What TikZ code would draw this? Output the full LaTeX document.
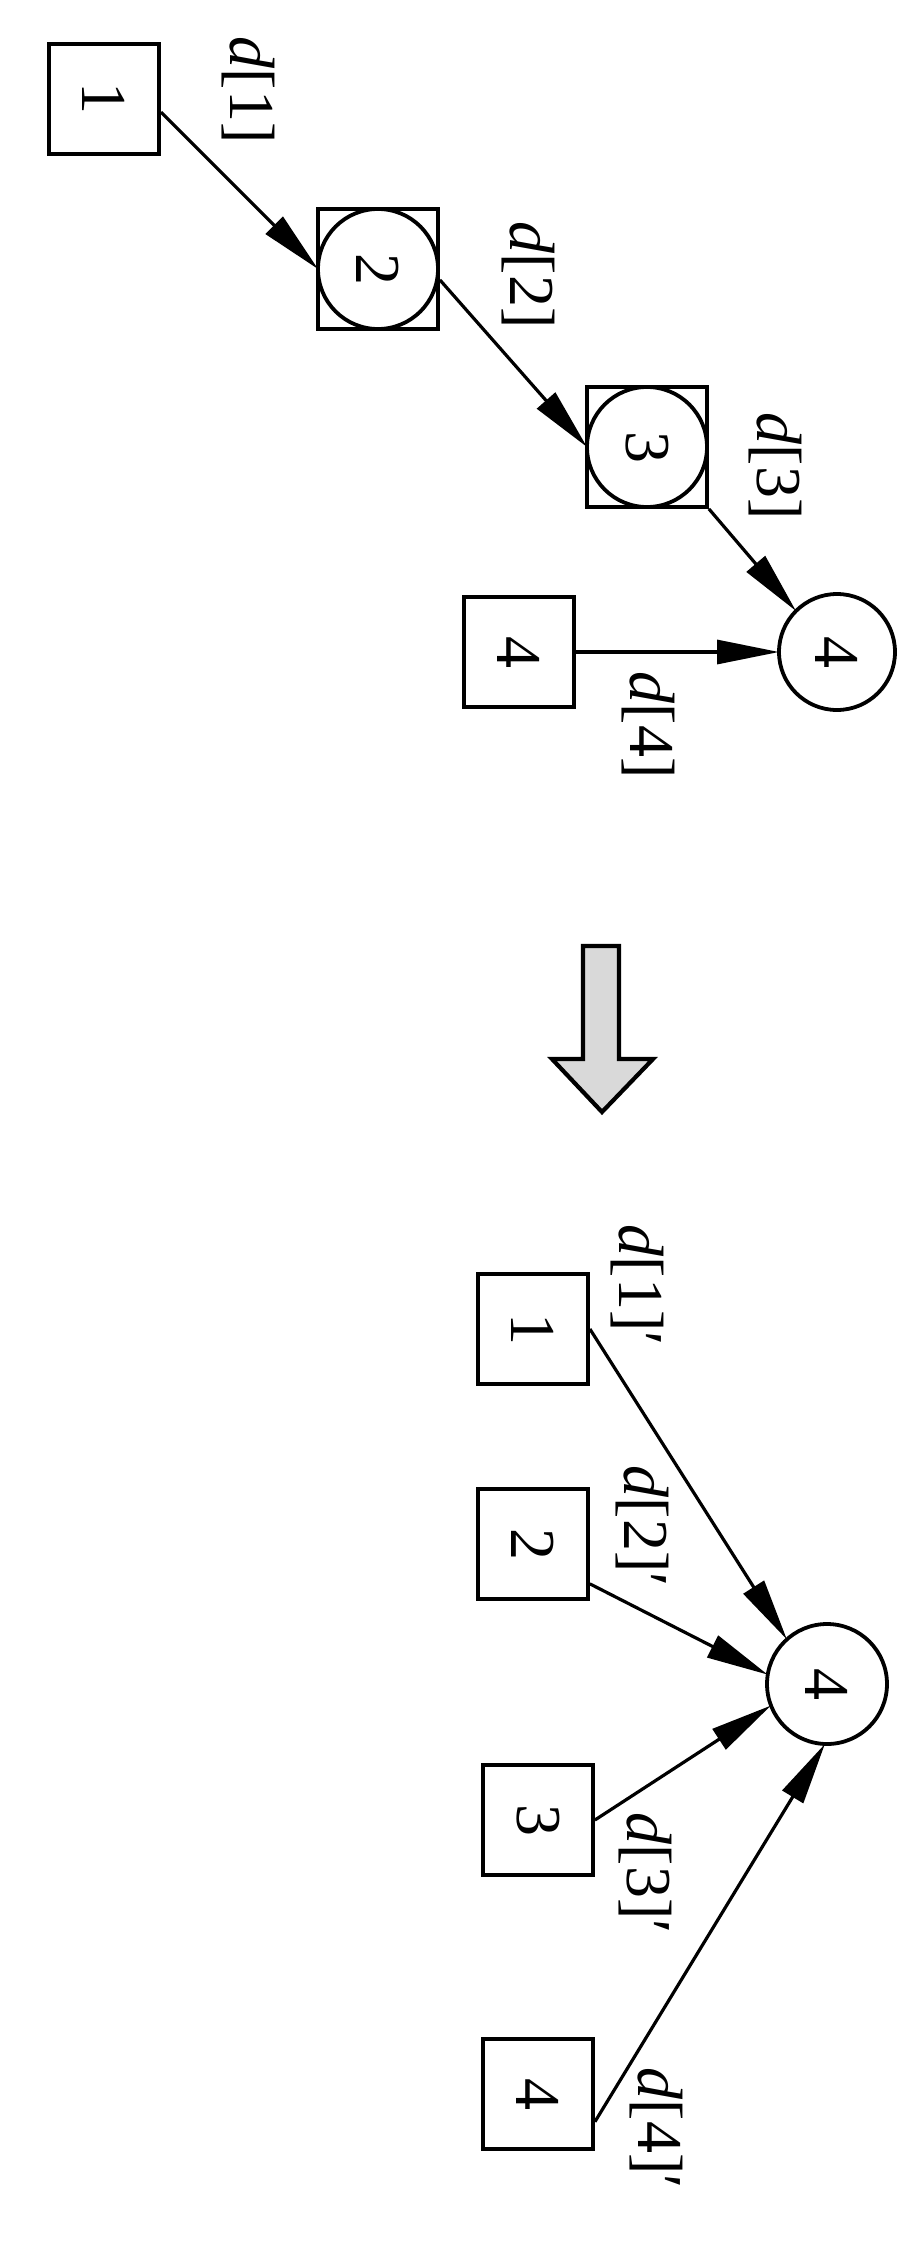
\documentclass[tikz,border=0pt]{standalone}
\usepackage{fontspec}
\setmainfont{Liberation Serif}
\usepackage{graphicx}
\usetikzlibrary{positioning,fit,arrows.meta}
\newcommand{\vtext}[1]{\rotatebox{-90}{#1}}

\tikzset{
  every node/.style={font=\fontsize{64}{70}\selectfont},
  box/.style={draw, rectangle, line width=3.8pt, minimum size=110pt, inner sep=0pt},
  vert/.style={draw, circle, line width=3.8pt, minimum size=118pt, inner sep=0pt, outer sep=0pt},
  sqframe/.style={draw, rectangle, line width=3.8pt, inner sep=0pt},
  flow/.style={line width=3.2pt, -{Triangle[length=62pt,width=24pt]}},
  lbl/.style={rotate=-90, inner sep=0pt},
}

\begin{document}
\begin{tikzpicture}[x=1pt, y=-1pt]
		\useasboundingbox (0,0) rectangle (912,2264);

		% Define nodes (before)
		\node[box] (b1) at (104,99) {\vtext{1}};
		\node[vert, minimum size=120pt, on grid, below right=170pt and 274pt of b1] (c2) {\vtext{2}};
		\node[sqframe, fit=(c2.north)(c2.south)(c2.east)(c2.west)] (s2) {};
		\node[vert, minimum size=120pt, on grid, below right=178pt and 269pt of c2] (c3) {\vtext{3}};
		\node[sqframe, fit=(c3.north)(c3.south)(c3.east)(c3.west)] (s3) {};
		\node[vert, minimum size=116pt, on grid, below right=205pt and 190pt of c3] (c4) {\vtext{4}};
		\node[box, on grid, left=318pt of c4] (b4) {\vtext{4}};

		% Connect the nodes
		\draw[flow] (b1.347) -- (c2.west);
		\draw[flow] (s2.350) -- (c3.west);
		\draw[flow] (s3.south east) -- (c4.135);
		\draw[flow] (b4.east) -- (c4.west);

		\node[lbl] (l1) at (248,90) {\textit{d}[1]};
		\node[lbl] (l2) at (528,275) {\textit{d}[2]};
		\node[lbl] (l3) at (775,466) {\textit{d}[3]};
		\node[lbl] (l4) at (648,725) {\textit{d}[4]};

		% Big arrow
		\draw[line width=4.2pt, fill=gray!30, line join=miter]
			(583,946) -- (619,946) -- (619,1059) -- (653,1059) -- (602,1112)
			-- (552,1059) -- (583,1059) -- cycle;

		% Define nodes (after)
		\node[vert, minimum size=120pt] (C4) at (827,1684) {\vtext{4}};
		\node[box, on grid, above left=355pt and 294pt of C4] (B1) {\vtext{1}};
		\node[box, on grid, below=215pt of B1] (B2) {\vtext{2}};
		\node[box, on grid, below=276pt of B2, xshift=5pt] (B3) {\vtext{3}};
		\node[box, on grid, below=274pt of B3] (B4) {\vtext{4}};

		% Connect the nodes
		\draw[flow] (B1.east) -- (C4.132);
		\draw[flow] (B2.325) -- (C4.171);
		\draw[flow] (B3.east) -- (C4.201);
		\draw[flow] (B4.334) -- (C4.268);

		\node[lbl] (m1) at (637,1285) {\textit{d}[1]′};
		\node[lbl] (m2) at (642,1526) {\textit{d}[2]′};
		\node[lbl] (m3) at (645,1873) {\textit{d}[3]′};
		\node[lbl] (m4) at (656,2128) {\textit{d}[4]′};
	\end{tikzpicture}
\end{document}
